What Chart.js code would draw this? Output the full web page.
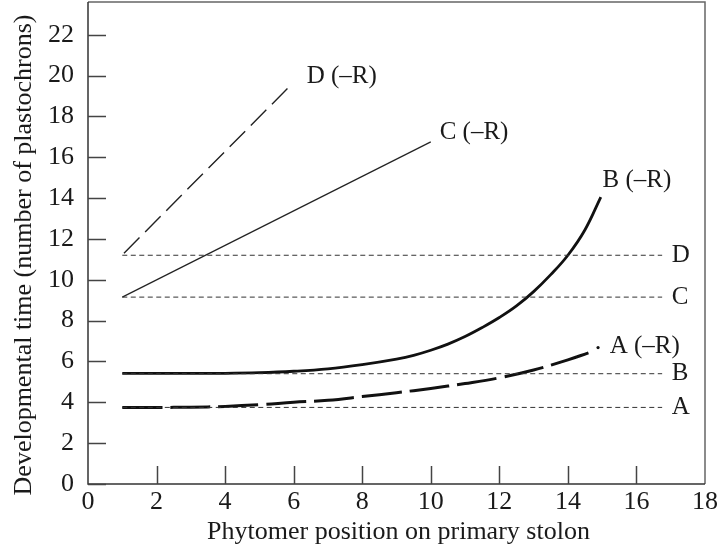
<!DOCTYPE html>
<html><head><meta charset="utf-8">
<script src="https://cdn.jsdelivr.net/npm/chart.js@4/dist/chart.umd.min.js"></script>
<style>html,body{margin:0;padding:0;background:#fff}</style>
</head><body>
<canvas id="c" width="720" height="550"></canvas>
<script>
// ---- data ----
const xAxisTitle = 'Phytomer position on primary stolon';
const yAxisTitle = 'Developmental time (number of plastochrons)';
const xTickValues = [0, 2, 4, 6, 8, 10, 12, 14, 16, 18];
const yTickValues = [0, 2, 4, 6, 8, 10, 12, 14, 16, 18, 20, 22];

const refNames = ['A', 'B', 'C', 'D'];
const refLevels = [3.75, 5.4, 9.15, 11.2];
const refX = [1, 16.75];

const aRx = [1, 2, 3, 4, 5, 6, 7, 8, 9, 10, 11, 12, 13, 14, 14.6];
const aRy = [3.75, 3.75, 3.76, 3.8, 3.88, 4.0, 4.1, 4.28, 4.47, 4.68, 4.92, 5.2, 5.58, 6.08, 6.42];
const aRdotX = [14.88];
const aRdotY = [6.68];

const bRx = [1, 2, 3, 4, 5, 6, 7, 8, 9, 9.5, 10, 10.5, 11, 11.5, 12, 12.5, 13, 13.5, 14, 14.5, 14.96];
const bRy = [5.42, 5.42, 5.42, 5.42, 5.45, 5.52, 5.64, 5.85, 6.12, 6.3, 6.55, 6.85, 7.22, 7.66, 8.15, 8.72, 9.42, 10.25, 11.2, 12.45, 14.05];

const cRx = [1, 10];
const cRy = [9.15, 16.75];

const dRx = [1.05, 5.96];
const dRy = [11.3, 19.6];

const curveNames = ['A (–R)', 'B (–R)', 'C (–R)', 'D (–R)'];
const curveLabelX = [15.22, 15.01, 10.26, 6.38];
const curveLabelY = [6.73, 14.85, 17.2, 19.95];
const refLabelX = 17.03;

// ---- build ----
const pts = (xs, ys) => xs.map((x, i) => ({x, y: ys[i]}));
const FONT = '"Liberation Serif", "Times New Roman", serif';
const INK = '#1a1a1a';

const datasets = [];
refLevels.forEach((lv, i) => {
  datasets.push({label: refNames[i], data: pts(refX, [lv, lv]), showLine: true, pointRadius: 0,
    borderColor: '#333', borderWidth: 1, borderDash: [5, 3.5]});
});
datasets.push({label: curveNames[0], data: pts(aRx, aRy), showLine: true, pointRadius: 0,
  borderColor: '#111', borderWidth: 3, borderDash: [40, 8], tension: 0.4});
datasets.push({label: 'A dot', data: pts(aRdotX, aRdotY), showLine: false, pointRadius: 1.6,
  pointBackgroundColor: '#111', pointBorderWidth: 0});
datasets.push({label: curveNames[1], data: pts(bRx, bRy), showLine: true, pointRadius: 0,
  borderColor: '#111', borderWidth: 2.8, tension: 0.4});
datasets.push({label: curveNames[2], data: pts(cRx, cRy), showLine: true, pointRadius: 0,
  borderColor: '#222', borderWidth: 1.2});
datasets.push({label: curveNames[3], data: pts(dRx, dRy), showLine: true, pointRadius: 0,
  borderColor: '#222', borderWidth: 1.4, borderDash: [22, 8]});

const decor = {
  id: 'decor',
  beforeDatasetsDraw(chart) {
    const {ctx, chartArea: a, scales: {x, y}} = chart;
    ctx.save();
    ctx.strokeStyle = '#666'; ctx.lineWidth = 1.5;
    ctx.beginPath();
    ctx.moveTo(a.left, a.top); ctx.lineTo(a.right, a.top); ctx.lineTo(a.right, a.bottom);
    ctx.stroke();
    ctx.strokeStyle = '#333'; ctx.lineWidth = 1.5;
    ctx.beginPath();
    ctx.moveTo(a.left, a.top); ctx.lineTo(a.left, a.bottom); ctx.lineTo(a.right, a.bottom);
    ctx.stroke();
    ctx.strokeStyle = '#444'; ctx.lineWidth = 1.5;
    ctx.beginPath();
    y.ticks.forEach(t => { const py = Math.round(y.getPixelForValue(t.value)) + 0.5;
      ctx.moveTo(a.left, py); ctx.lineTo(a.left + 18, py); });
    x.ticks.forEach(t => { if (t.value <= 0 || t.value >= 18) return;
      const px = Math.round(x.getPixelForValue(t.value)) + 0.5;
      ctx.moveTo(px, a.bottom); ctx.lineTo(px, a.bottom - 18); });
    ctx.stroke();
    ctx.restore();
  },
  afterDraw(chart) {
    const {ctx, chartArea: a, scales: {x, y}} = chart;
    ctx.save();
    ctx.fillStyle = INK;
    ctx.font = '26px ' + FONT;
    ctx.textBaseline = 'middle';
    ctx.textAlign = 'center';
    ctx.fillText(xAxisTitle, (a.left + a.right) / 2 + 2, 532);
    ctx.save();
    ctx.translate(24, 255);
    ctx.rotate(-Math.PI / 2);
    ctx.fillText(yAxisTitle, 0, 0);
    ctx.restore();
    ctx.textAlign = 'left';
    ctx.font = '25px ' + FONT;
    curveNames.forEach((n, i) => ctx.fillText(n, x.getPixelForValue(curveLabelX[i]), y.getPixelForValue(curveLabelY[i])));
    refNames.forEach((n, i) => ctx.fillText(n, x.getPixelForValue(refLabelX), y.getPixelForValue(refLevels[i])));
    ctx.restore();
  }
};

new Chart(document.getElementById('c'), {
  type: 'scatter',
  data: {datasets},
  plugins: [decor],
  options: {
    responsive: false, animation: false, devicePixelRatio: 1,
    layout: {autoPadding: false, padding: {top: 2, right: 15, left: 0, bottom: 0}},
    plugins: {legend: {display: false}, tooltip: {enabled: false}},
    scales: {
      x: {type: 'linear', min: 0, max: 18,
        afterBuildTicks: s => { s.ticks = xTickValues.map(v => ({value: v})); },
        afterFit: s => { s.height = 66; s.paddingLeft = 0; s.paddingRight = 0; },
        ticks: {font: {family: FONT, size: 26}, color: INK, padding: 3, maxRotation: 0, autoSkip: false},
        grid: {display: false, drawTicks: false}, border: {display: false}},
      y: {type: 'linear', min: 0, max: 23.6,
        afterBuildTicks: s => { s.ticks = yTickValues.map(v => ({value: v})); },
        afterFit: s => { s.width = 88; s.paddingTop = 0; s.paddingBottom = 0; },
        ticks: {font: {family: FONT, size: 26}, color: INK, padding: 14, autoSkip: false},
        grid: {display: false, drawTicks: false}, border: {display: false}}
    }
  }
});
</script>
</body></html>
